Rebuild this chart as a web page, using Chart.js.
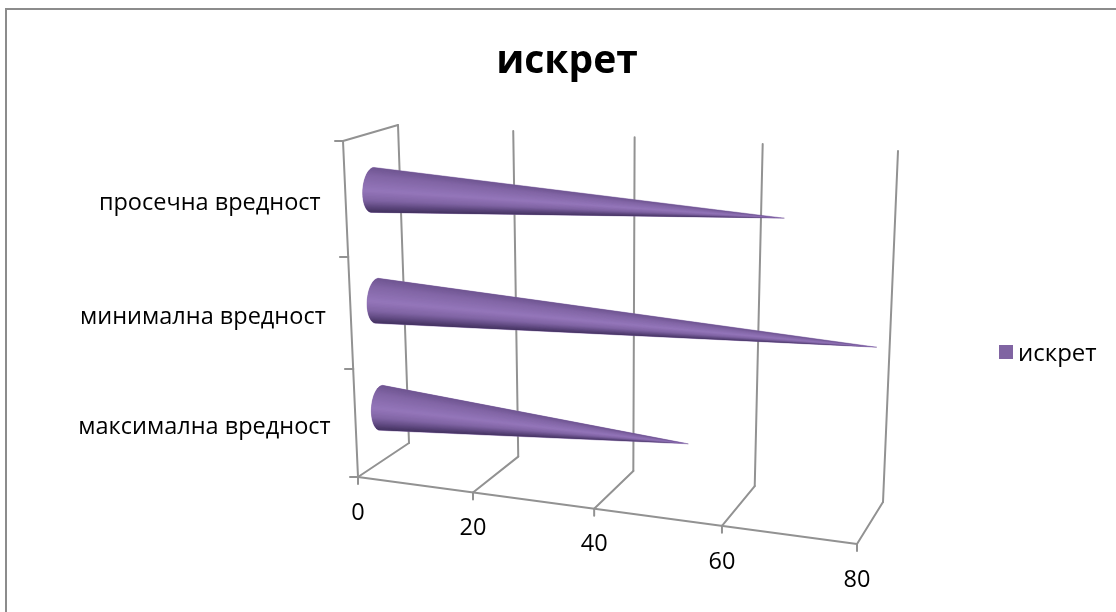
<!DOCTYPE html>
<html>
<head>
<meta charset="utf-8">
<script src="https://cdn.jsdelivr.net/npm/chart.js@4"></script>
<style>html,body{margin:0;padding:0;background:#fff}canvas{display:block}</style>
</head>
<body>
<canvas id="c" width="1116" height="612"></canvas>
<script>
const categories = ['просечна вредност', 'минимална вредност', 'максимална вредност'];
const seriesName = 'искрет';
const values = [66, 80, 52];
const valueTicks = [0, 20, 40, 60, 80];

const FONT = '"Open Sans", sans-serif';
const GRID = '#929292';
const INK = '#000';
const PURPLE = '#8064a2';

// Corners of the 3D box on screen: f = front plane, b = back plane, l/r, t/b.
const box = {
  flb: [358, 477], frb: [857, 544], flt: [343, 141], frt: [870, 173],
  blb: [409, 443], brb: [883, 502], blt: [398, 125], brt: [898, 151]
};
const KU = 0.113, KV = 0.054;
const lerp = (a, b, t) => [a[0] + (b[0] - a[0]) * t, a[1] + (b[1] - a[1]) * t];

// u: 0..1 along the value axis, v: 0..1 upward, w: 0 front .. 1 back.
function project(u, v, w) {
  const pu = u / (1 + KU * (1 - u));
  const pv = v / (1 + KV * (1 - v));
  const front = lerp(lerp(box.flb, box.frb, pu), lerp(box.flt, box.frt, pu), pv);
  const back = lerp(lerp(box.blb, box.brb, pu), lerp(box.blt, box.brt, pu), pv);
  return lerp(front, back, w);
}

function normalise(chart, px, py) {
  const a = chart.chartArea;
  return [(px - a.left) / (a.right - a.left), (a.bottom - py) / (a.bottom - a.top)];
}

// Shading across the cone surface, from its top edge (0) to its bottom edge (1).
const shadeStops = [
  [0, [112, 86, 146]], [0.18, [130, 102, 166]], [0.5, [148, 118, 186]],
  [0.72, [128, 100, 164]], [0.88, [92, 70, 124]], [1, [64, 48, 92]]
];
function shade(t) {
  for (let i = 1; i < shadeStops.length; i++) {
    if (t <= shadeStops[i][0]) {
      const [t0, c0] = shadeStops[i - 1], [t1, c1] = shadeStops[i];
      const k = (t - t0) / (t1 - t0);
      return 'rgb(' + c0.map((c, j) => Math.round(c + (c1[j] - c) * k)).join(',') + ')';
    }
  }
  return 'rgb(64,48,92)';
}

// A bar element that paints itself as a cone lying along the value axis.
class ConeElement extends Chart.BarElement {
  static id = 'cone';
  draw(ctx) {
    const chart = Chart.getChart(ctx.canvas);
    const [u0, v] = normalise(chart, this.base, this.y);
    const [u1] = normalise(chart, this.x, this.y);
    const c = project(u0, v, 0.5), tip = project(u1, v, 0.5);
    const rx = 10, ry = 22.5, tilt = 0.06, n = 48;
    const rim = a => {
      const ex = -Math.sin(a) * rx, ey = -Math.cos(a) * ry;
      return [c[0] + ex - ey * tilt, c[1] + ey];
    };
    ctx.save();
    // Solid silhouette first, so the shading slices have no gaps along their seams.
    ctx.beginPath();
    ctx.moveTo(tip[0], tip[1]);
    for (let i = 0; i <= n; i++) {
      const p = rim(Math.PI * i / n);
      ctx.lineTo(p[0], p[1]);
    }
    ctx.closePath();
    ctx.fillStyle = PURPLE; ctx.strokeStyle = PURPLE; ctx.lineWidth = 0.5;
    ctx.fill(); ctx.stroke();
    ctx.clip();
    // Shading slices, painted from the bottom edge upward with a small overlap.
    for (let i = n - 1; i >= 0; i--) {
      const p0 = rim(Math.PI * Math.max(i - 1, 0) / n), p1 = rim(Math.PI * (i + 1) / n);
      ctx.fillStyle = shade((1 - Math.cos(Math.PI * (i + 0.5) / n)) / 2);
      ctx.beginPath();
      ctx.moveTo(tip[0], tip[1]); ctx.lineTo(p0[0], p0[1]); ctx.lineTo(p1[0], p1[1]);
      ctx.closePath(); ctx.fill();
    }
    ctx.restore();
  }
}
class ConeController extends Chart.BarController {
  static id = 'cone';
  static defaults = { ...Chart.BarController.defaults, dataElementType: 'cone' };
}
Chart.register(ConeElement, ConeController);

function segment(ctx, a, b) {
  ctx.beginPath(); ctx.moveTo(a[0], a[1]); ctx.lineTo(b[0], b[1]); ctx.stroke();
}

// Walls, floor, ticks and axis labels of the 3D box, placed from the chart's scales.
const boxPlugin = {
  id: 'box3d',
  beforeDatasetsDraw(chart) {
    const ctx = chart.ctx, xs = chart.scales.x, ys = chart.scales.y;
    ctx.save();
    ctx.strokeStyle = '#8c8c8c'; ctx.lineWidth = 2;
    ctx.strokeRect(6, 9, 1130, 660);
    ctx.strokeStyle = GRID; ctx.lineWidth = 2; ctx.lineCap = 'round';
    valueTicks.forEach(t => {
      const [u] = normalise(chart, xs.getPixelForValue(t), 0);
      const f = project(u, 0, 0), b = project(u, 0, 1), top = project(u, 1, 1);
      segment(ctx, f, b); segment(ctx, b, top);
      segment(ctx, f, [f[0], f[1] + 7]);
      ctx.font = '23.5px ' + FONT; ctx.fillStyle = INK;
      ctx.textAlign = 'center'; ctx.textBaseline = 'middle';
      ctx.fillText(String(t), f[0], f[1] + 36);
    });
    segment(ctx, project(0, 0, 0), project(1, 0, 0));
    segment(ctx, project(0, 0, 0), project(0, 1, 0));
    segment(ctx, project(0, 1, 0), project(0, 1, 1));
    categories.forEach((name, i) => {
      const py = ys.getPixelForValue(i);
      const step = (ys.bottom - ys.top) / categories.length;
      [py - step / 2, py + step / 2].forEach(edge => {
        const [, v] = normalise(chart, 0, edge);
        const p = project(0, v, 0);
        segment(ctx, p, [p[0] - 8, p[1]]);
      });
      const [, v] = normalise(chart, 0, py);
      const p = project(0, v, 0);
      ctx.font = '23.5px ' + FONT; ctx.fillStyle = INK;
      ctx.textAlign = 'right'; ctx.textBaseline = 'middle';
      ctx.fillText(name, p[0] - 25, p[1] + 4);
    });
    ctx.restore();
  },
  // Series key at the right of the plot: swatch plus name.
  afterDraw(chart) {
    const ctx = chart.ctx, ds = chart.data.datasets[0];
    ctx.save();
    ctx.fillStyle = ds.backgroundColor;
    ctx.fillRect(999, 345, 14, 14);
    ctx.fillStyle = INK; ctx.font = '24px ' + FONT;
    ctx.textAlign = 'left'; ctx.textBaseline = 'middle';
    ctx.fillText(ds.label, 1018, 354);
    ctx.restore();
  }
};

new Chart(document.getElementById('c'), {
  type: 'cone',
  data: {
    labels: categories,
    datasets: [{ label: seriesName, data: values, backgroundColor: PURPLE, borderWidth: 0 }]
  },
  plugins: [boxPlugin],
  options: {
    indexAxis: 'y',
    responsive: false,
    animation: false,
    layout: { padding: { left: 18, right: 0, top: 0, bottom: 0 } },
    scales: {
      x: { type: 'linear', min: 0, max: 80, display: false },
      y: { type: 'category', display: false }
    },
    plugins: {
      title: {
        display: true, text: seriesName, color: INK,
        font: { family: FONT, size: 39, weight: 'bold' },
        padding: { top: 38, bottom: 7 }
      },
      legend: { display: false },
      tooltip: { enabled: false }
    }
  }
});
</script>
</body>
</html>
